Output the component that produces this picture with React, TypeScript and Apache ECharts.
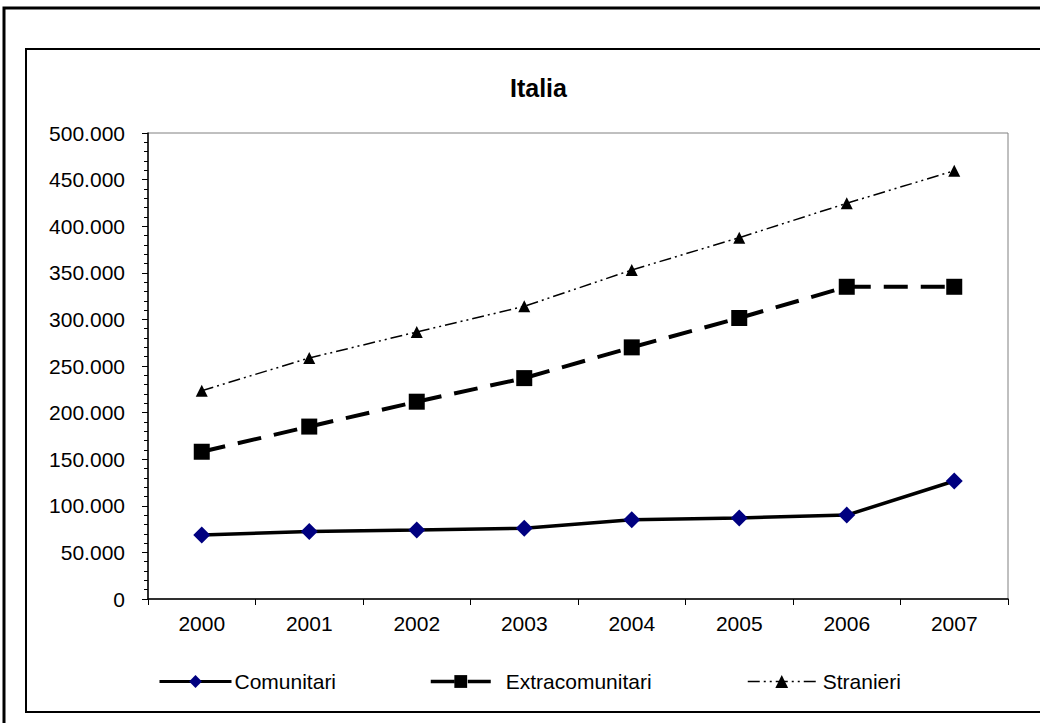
import React, { useEffect, useRef } from "react";
import * as echarts from "echarts";

const years = ["2000", "2001", "2002", "2003", "2004", "2005", "2006", "2007"];
const comunitari = [68700, 72300, 74000, 76000, 85000, 87000, 90000, 126600];
const extracomunitari = [158000, 185000, 211700, 237000, 270000, 301500, 335000, 335000];
const stranieri = [223500, 258600, 286500, 314000, 353000, 387700, 424600, 459500];

const FONT = "'Liberation Sans', Arial, sans-serif";

function fmt(v: number): string {
  if (v === 0) return "0";
  const s = String(Math.round(v));
  return s.replace(/\B(?=(\d{3})+(?!\d))/g, ".");
}

export default function App() {
  const ref = useRef<HTMLDivElement>(null);
  useEffect(() => {
    if (!ref.current) return;
    const chart = echarts.init(ref.current, null, { renderer: "svg" });
    const txt = { fontFamily: FONT, fontSize: 21, color: "#000" };
    const legendBase = {
      top: 671,
      itemHeight: 16,
      selectedMode: false,
      padding: 0,
    };
    chart.setOption({
      animation: false,
      backgroundColor: "#fff",
      title: {
        text: "Italia",
        left: 510,
        top: 75,
        padding: 0,
        textStyle: { fontFamily: FONT, fontSize: 25, fontWeight: "bold", color: "#000" },
      },
      graphic: [
        {
          type: "rect",
          shape: { x: 4, y: 8, width: 1200, height: 900 },
          style: { fill: "none", stroke: "#000", lineWidth: 3 },
          silent: true,
        },
        {
          type: "rect",
          shape: { x: 26, y: 49, width: 1200, height: 663 },
          style: { fill: "none", stroke: "#000", lineWidth: 2 },
          silent: true,
        },
      ],
      legend: [
        {
          ...legendBase,
          left: 158,
          itemWidth: 72,
          itemGap: 0,
          data: ["Comunitari"],
          lineStyle: { width: 3 },
          textStyle: { ...txt, padding: [0, 0, 0, -2] },
        },
        {
          ...legendBase,
          left: 429,
          itemWidth: 60,
          itemGap: 0,
          data: ["Extracomunitari"],
          lineStyle: { width: 3.5 },
          textStyle: { ...txt, padding: [0, 0, 0, 10] },
        },
        {
          ...legendBase,
          left: 747,
          itemWidth: 68,
          itemGap: 0,
          data: ["Stranieri"],
          lineStyle: { width: 1.5 },
          textStyle: { ...txt, padding: [0, 0, 0, 2] },
        },
      ],
      grid: {
        left: 148,
        top: 133,
        right: 32,
        bottom: 124,
        show: true,
        borderColor: "#808080",
        borderWidth: 1,
        containLabel: false,
      },
      xAxis: {
        type: "category",
        data: years,
        boundaryGap: true,
        axisLine: { lineStyle: { color: "#000", width: 1.5 } },
        axisTick: { show: true, length: 6, lineStyle: { color: "#000" } },
        axisLabel: { ...txt, margin: 14 },
        splitLine: { show: false },
      },
      yAxis: {
        type: "value",
        min: 0,
        max: 500000,
        interval: 50000,
        axisLine: { show: true, lineStyle: { color: "#000", width: 1.5 } },
        axisTick: { show: true, length: 6, lineStyle: { color: "#000" } },
        minorTick: { show: true, splitNumber: 5, length: 4, lineStyle: { color: "#000" } },
        axisLabel: { ...txt, margin: 23, formatter: fmt },
        splitLine: { show: false },
      },
      series: [
        {
          name: "Comunitari",
          type: "line",
          data: comunitari,
          symbol: "diamond",
          symbolSize: 17,
          itemStyle: { color: "#000080" },
          lineStyle: { color: "#000", width: 3.5 },
        },
        {
          name: "Extracomunitari",
          type: "line",
          data: extracomunitari,
          symbol: "rect",
          symbolSize: 16,
          itemStyle: { color: "#000" },
          lineStyle: { color: "#000", width: 4, type: [24, 13] },
        },
        {
          name: "Stranieri",
          type: "line",
          data: stranieri,
          symbol: "triangle",
          symbolSize: 12,
          itemStyle: { color: "#000" },
          lineStyle: { color: "#000", width: 1.5, type: [12, 4, 2, 4, 2, 4] },
        },
      ],
    });
    return () => chart.dispose();
  }, []);
  return (
    <div
      ref={ref}
      style={{ position: "fixed", left: 0, top: 0, width: 1040, height: 723 }}
    />
  );
}
